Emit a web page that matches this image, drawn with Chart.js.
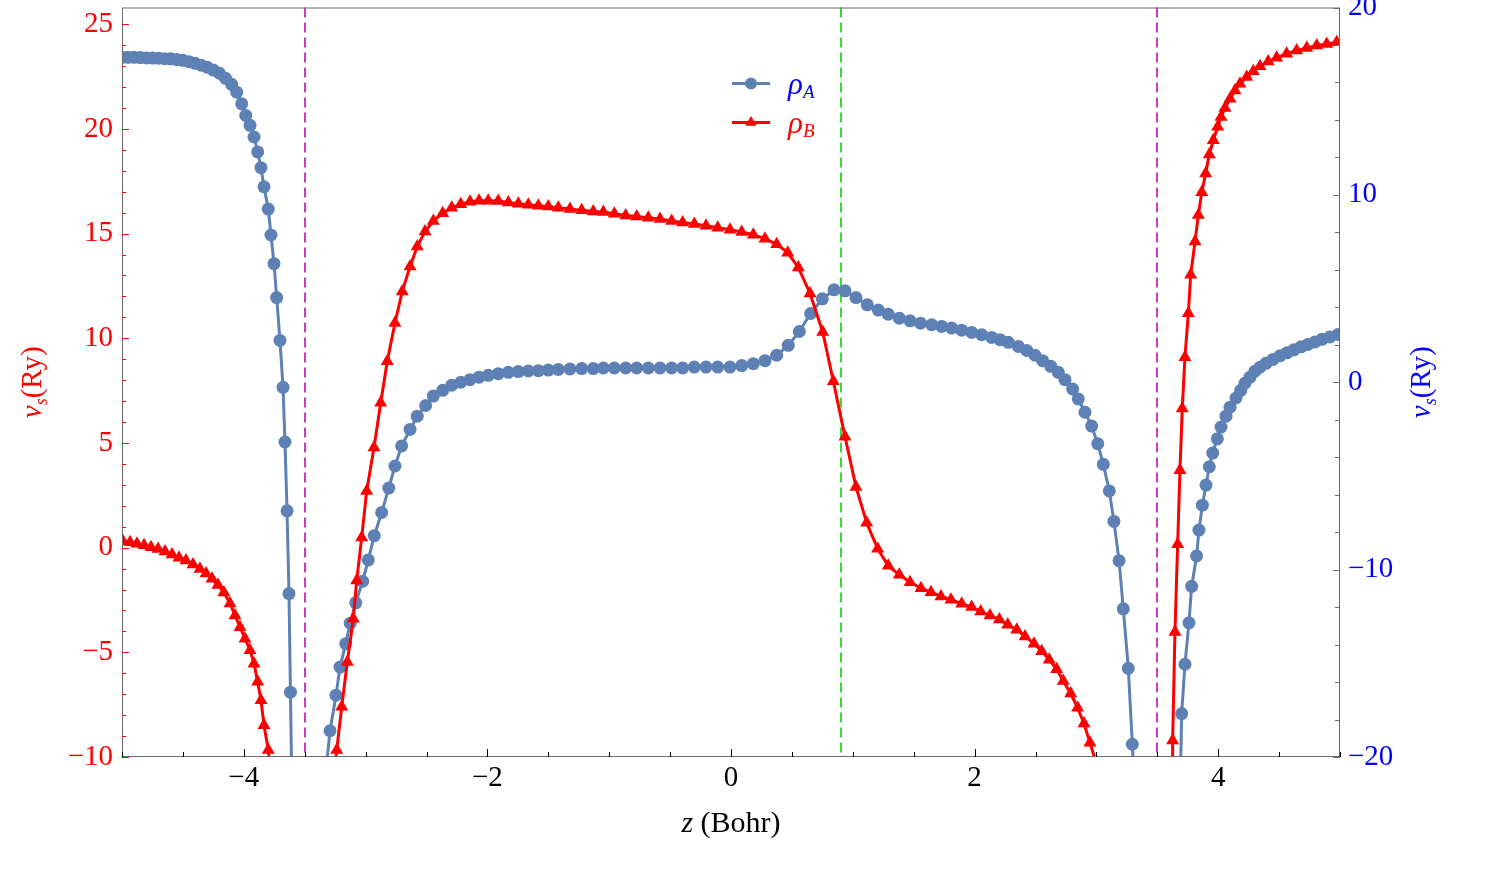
<!DOCTYPE html>
<html lang="en">
<head>
    <meta charset="UTF-8">
    <title>v_s(z) for rho_A and rho_B</title>
    <script src="https://cdn.jsdelivr.net/npm/chart.js"></script>
    <style>
        body { margin: 0; background: white; }
        .chart-box { width: 1500px; height: 878px; position: relative; }
    </style>
</head>
<body>
    <div class="chart-box"><canvas id="chartVs"></canvas></div>

    <script>
        // rho_A (right axis), three branches: z in Bohr, v_s in Ry
        const zA1 = [-5, -4.95, -4.9, -4.85, -4.8, -4.75, -4.7, -4.65, -4.6, -4.55,
            -4.5, -4.45, -4.4, -4.35, -4.3, -4.25, -4.2, -4.15, -4.1, -4.058,
            -4.017, -3.984, -3.949, -3.916, -3.886, -3.859, -3.834, -3.799, -3.777, -3.752,
            -3.730, -3.703, -3.678, -3.662, -3.645, -3.629, -3.617, -3.604];
        const vA1 = [17.34, 17.34, 17.34, 17.33, 17.31, 17.30, 17.29, 17.27, 17.26, 17.22,
            17.18, 17.11, 17.02, 16.92, 16.81, 16.66, 16.49, 16.22, 15.90, 15.48,
            14.86, 14.24, 13.71, 13.09, 12.29, 11.45, 10.43, 9.24, 7.86, 6.33,
            4.52, 2.23, -0.27, -3.19, -6.86, -11.28, -16.54, -22.3];

        const zA2 = [-3.333, -3.292, -3.243, -3.210, -3.163, -3.126, -3.081, -3.024, -2.978, -2.929,
            -2.868, -2.810, -2.759, -2.704, -2.635, -2.576, -2.507, -2.444, -2.367, -2.293,
            -2.219, -2.143, -2.069, -1.993, -1.911, -1.828, -1.746, -1.664, -1.582, -1.500,
            -1.418, -1.322, -1.226, -1.131, -1.048, -0.958, -0.865, -0.774, -0.679, -0.583,
            -0.487, -0.397, -0.301, -0.205, -0.109, -0.008, 0.088, 0.183, 0.279, 0.375,
            0.470, 0.561, 0.654, 0.750, 0.846, 0.936, 1.026, 1.119, 1.209, 1.291,
            1.382, 1.470, 1.557, 1.648, 1.730, 1.812, 1.894, 1.976, 2.058, 2.140,
            2.209, 2.277, 2.359, 2.428, 2.496, 2.559, 2.625, 2.687, 2.742, 2.805,
            2.851, 2.906, 2.961, 3.011, 3.057, 3.106, 3.144, 3.186, 3.221, 3.262,
            3.295, 3.313];
        const vA2 = [-21.2, -18.60, -16.70, -15.20, -13.95, -12.86, -11.77, -10.62, -9.48, -8.19,
            -6.95, -5.65, -4.47, -3.40, -2.52, -1.81, -1.24, -0.74, -0.43, -0.16,
            0.00, 0.14, 0.27, 0.37, 0.46, 0.53, 0.57, 0.60, 0.62, 0.65,
            0.68, 0.71, 0.73, 0.73, 0.76, 0.76, 0.76, 0.76, 0.76, 0.76,
            0.76, 0.76, 0.81, 0.81, 0.81, 0.81, 0.89, 0.99, 1.15, 1.44,
            1.97, 2.71, 3.67, 4.45, 4.93, 4.88, 4.52, 4.13, 3.85, 3.63,
            3.42, 3.28, 3.15, 3.07, 2.98, 2.89, 2.78, 2.66, 2.54, 2.39,
            2.27, 2.13, 1.91, 1.70, 1.44, 1.15, 0.85, 0.53, 0.14, -0.36,
            -0.89, -1.60, -2.34, -3.28, -4.38, -5.80, -7.43, -9.52, -12.09, -15.27,
            -19.32, -21.8];

        const zA3 = [3.686, 3.700, 3.727, 3.760, 3.782, 3.823, 3.842, 3.870, 3.900, 3.927,
            3.955, 3.993, 4.023, 4.064, 4.097, 4.146, 4.185, 4.220, 4.261, 4.302,
            4.343, 4.392, 4.450, 4.507, 4.565, 4.622, 4.680, 4.737, 4.795, 4.852,
            4.918, 4.984];
        const vA3 = [-22.3, -17.68, -15.05, -12.84, -10.89, -9.27, -7.89, -6.56, -5.49, -4.51,
            -3.78, -3.02, -2.39, -1.81, -1.33, -0.84, -0.43, -0.05, 0.27, 0.59,
            0.80, 1.01, 1.22, 1.41, 1.57, 1.73, 1.89, 2.02, 2.15, 2.29,
            2.42, 2.55];

        // rho_B (left axis)
        const zB1 = [-4.992, -4.934, -4.877, -4.819, -4.762, -4.704, -4.647, -4.589, -4.532, -4.475,
            -4.417, -4.360, -4.310, -4.261, -4.212, -4.163, -4.113, -4.072, -4.031, -3.990,
            -3.949, -3.916, -3.886, -3.859, -3.834, -3.799, -3.773];
        const vB1 = [0.31, 0.26, 0.19, 0.12, 0.02, -0.07, -0.19, -0.33, -0.48, -0.62,
            -0.81, -1.02, -1.24, -1.48, -1.79, -2.14, -2.67, -3.24, -3.80, -4.35,
            -4.90, -5.54, -6.41, -7.29, -8.48, -9.67, -11.10];

        const zB2 = [-3.276, -3.237, -3.196, -3.150, -3.101, -3.073, -3.032, -2.991, -2.931, -2.876,
            -2.822, -2.759, -2.699, -2.635, -2.576, -2.512, -2.444, -2.367, -2.293, -2.219,
            -2.143, -2.069, -1.993, -1.911, -1.828, -1.746, -1.664, -1.582, -1.500, -1.418,
            -1.322, -1.226, -1.131, -1.048, -0.958, -0.865, -0.774, -0.679, -0.583, -0.487,
            -0.397, -0.301, -0.205, -0.109, -0.008, 0.088, 0.183, 0.279, 0.375, 0.466,
            0.553, 0.649, 0.753, 0.840, 0.936, 1.026, 1.114, 1.204, 1.291, 1.382,
            1.470, 1.560, 1.642, 1.724, 1.806, 1.894, 1.976, 2.050, 2.126, 2.203,
            2.272, 2.346, 2.414, 2.488, 2.551, 2.613, 2.674, 2.728, 2.789, 2.846,
            2.898, 2.947, 3.030];
        const vB2 = [-11.57, -9.67, -7.60, -5.46, -3.40, -1.57, 0.49, 2.71, 4.78, 6.92,
            8.90, 10.73, 12.24, 13.43, 14.38, 15.10, 15.60, 15.97, 16.24, 16.40,
            16.52, 16.57, 16.57, 16.56, 16.49, 16.43, 16.38, 16.33, 16.29, 16.24,
            16.18, 16.11, 16.06, 16.03, 15.95, 15.87, 15.82, 15.76, 15.70, 15.60,
            15.53, 15.46, 15.38, 15.28, 15.19, 15.08, 14.95, 14.76, 14.49, 14.09,
            13.38, 12.14, 10.30, 7.95, 5.30, 2.90, 1.19, -0.05, -0.86, -1.30,
            -1.65, -1.94, -2.13, -2.33, -2.49, -2.68, -2.84, -3.05, -3.24, -3.43,
            -3.68, -3.92, -4.24, -4.59, -4.95, -5.35, -5.81, -6.37, -6.97, -7.65,
            -8.40, -9.32, -10.86];

        const zB3 = [3.621, 3.626, 3.645, 3.667, 3.686, 3.705, 3.727, 3.755, 3.774, 3.810,
            3.837, 3.865, 3.897, 3.927, 3.960, 3.996, 4.023, 4.056, 4.097, 4.138,
            4.179, 4.234, 4.288, 4.343, 4.411, 4.480, 4.562, 4.644, 4.727, 4.809,
            4.891, 4.973];
        const vB3 = [-11.57, -9.21, -4.03, 0.16, 3.70, 6.65, 9.10, 11.20, 13.03, 14.62,
            15.89, 16.97, 17.87, 18.78, 19.46, 20.10, 20.57, 21.00, 21.44, 21.84,
            22.16, 22.48, 22.75, 22.99, 23.22, 23.40, 23.59, 23.75, 23.87, 23.99,
            24.06, 24.14];

        // tick labels and the dashed guide lines
        const xTicks = [-4, -2, 0, 2, 4];
        const leftTicks = [-10, -5, 0, 5, 10, 15, 20, 25];
        const rightTicks = [-20, -10, 0, 10, 20];
        const guideZ = [-3.5, 0.9, 3.5];

        const SERIF = '"Liberation Serif", "DejaVu Serif", serif';
        const colorA = '#5e81b5';
        const colorB = '#ff0000';
        const textRed = '#ff0000';
        const textBlue = '#0000ff';
        const frameColor = '#6a6a6a';
        const guideColors = ['#c83cc8', '#33dd33', '#c83cc8'];

        // joins branches, with a null point between them so the line breaks
        function branches(zLists, vLists) {
            const out = [];
            zLists.forEach((zs, k) => {
                if (k > 0) out.push({ x: zs[0], y: null });
                zs.forEach((z, i) => out.push({ x: z, y: vLists[k][i] }));
            });
            return out;
        }

        function fmt(v) {
            return v < 0 ? '\u2212' + Math.abs(v) : String(v);
        }

        // text runs with italic / subscript parts
        function runFont(p, size) {
            const s = p.sub ? Math.round(size * 0.62) : size;
            return (p.it ? 'italic ' : '') + s + 'px ' + SERIF;
        }
        function runWidth(ctx, parts, size) {
            let w = 0;
            parts.forEach(p => { ctx.font = runFont(p, size); w += ctx.measureText(p.t).width; });
            return w;
        }
        function drawRun(ctx, parts, x, y, size, color, subShift) {
            ctx.fillStyle = color;
            ctx.textAlign = 'left';
            ctx.textBaseline = 'alphabetic';
            let cx = x;
            parts.forEach(p => {
                ctx.font = runFont(p, size);
                ctx.fillText(p.t, cx, y + (p.sub ? subShift : 0));
                cx += ctx.measureText(p.t).width;
            });
        }

        function marker(ctx, style, x, y, r) {
            ctx.beginPath();
            if (style === 'triangle') {
                ctx.moveTo(x, y - r);
                ctx.lineTo(x + r * 0.87, y + r * 0.5);
                ctx.lineTo(x - r * 0.87, y + r * 0.5);
                ctx.closePath();
            } else {
                ctx.arc(x, y, r, 0, Math.PI * 2);
            }
            ctx.fill();
        }

        const vsTitle = [{ t: 'v', it: true }, { t: 's', it: true, sub: true }, { t: '(Ry)' }];
        const legendText = [
            [{ t: '\u03c1', it: true }, { t: 'A', it: true, sub: true }],
            [{ t: '\u03c1', it: true }, { t: 'B', it: true, sub: true }]
        ];
        const legendColors = [textBlue, textRed];

        const decor = {
            id: 'decor',
            beforeDatasetsDraw(chart) {
                const { ctx, chartArea: a, scales } = chart;
                ctx.save();
                ctx.lineWidth = 2;
                ctx.setLineDash([10, 5]);
                guideZ.forEach((z, i) => {
                    const px = Math.round(scales.x.getPixelForValue(z));
                    ctx.strokeStyle = guideColors[i];
                    ctx.beginPath();
                    ctx.moveTo(px, a.top);
                    ctx.lineTo(px, a.bottom);
                    ctx.stroke();
                });
                ctx.restore();
            },
            afterDraw(chart) {
                const { ctx, chartArea: a, scales } = chart;
                const line = (x1, y1, x2, y2) => {
                    ctx.beginPath(); ctx.moveTo(x1, y1); ctx.lineTo(x2, y2); ctx.stroke();
                };
                ctx.save();

                // frame
                ctx.lineWidth = 1;
                ctx.strokeStyle = frameColor;
                ctx.strokeRect(a.left + 0.5, a.top + 0.5, a.right - a.left - 1, a.bottom - a.top - 1);

                // inward ticks
                ctx.strokeStyle = '#000';
                for (let k = -10; k <= 10; k++) {
                    const px = Math.round(scales.x.getPixelForValue(k / 2)) + 0.5;
                    line(px, a.bottom, px, a.bottom - (k % 4 === 0 ? 8 : 5));
                }
                ctx.strokeStyle = textRed;
                for (let k = -10; k <= 25; k++) {
                    const py = Math.round(scales.yL.getPixelForValue(k)) + 0.5;
                    line(a.left, py, a.left + (k % 5 === 0 ? 7 : 4), py);
                }
                ctx.strokeStyle = frameColor;
                for (let k = -20; k <= 20; k += 2) {
                    const py = Math.round(scales.yR.getPixelForValue(k)) + 0.5;
                    line(a.right, py, a.right - (k % 10 === 0 ? 7 : 5), py);
                }

                // axis titles
                const xParts = [{ t: 'z', it: true }, { t: ' (Bohr)' }];
                const xw = runWidth(ctx, xParts, 30);
                drawRun(ctx, xParts, (a.left + a.right) / 2 - xw / 2, 832, 30, '#000', 0);

                const midY = (a.top + a.bottom) / 2;
                [[41, textRed], [1430, textBlue]].forEach(([bx, col]) => {
                    ctx.save();
                    ctx.translate(bx, midY);
                    ctx.rotate(-Math.PI / 2);
                    const w = runWidth(ctx, vsTitle, 29);
                    drawRun(ctx, vsTitle, -w / 2, 0, 29, col, 6);
                    ctx.restore();
                });

                // legend
                const lx = a.left + 610;
                chart.data.datasets.forEach((ds, i) => {
                    const y = a.top + 76 + i * 39;
                    ctx.strokeStyle = ds.borderColor;
                    ctx.fillStyle = ds.borderColor;
                    ctx.lineWidth = 3;
                    line(lx, y, lx + 38, y);
                    marker(ctx, ds.pointStyle, lx + 19, y, ds.pointStyle === 'triangle' ? 6.5 : 6);
                    drawRun(ctx, legendText[i], lx + 56, y + 10, 31, legendColors[i], 4);
                });

                ctx.restore();
            }
        };

        const tickFont = { family: SERIF, size: 29 };

        new Chart(document.getElementById('chartVs'), {
            type: 'line',
            data: {
                datasets: [{
                    label: 'rho_A',
                    data: branches([zA1, zA2, zA3], [vA1, vA2, vA3]),
                    yAxisID: 'yR',
                    borderColor: colorA,
                    backgroundColor: colorA,
                    borderWidth: 3,
                    pointStyle: 'circle',
                    pointRadius: 6.5,
                    pointBorderWidth: 0,
                    pointBackgroundColor: colorA,
                    spanGaps: false,
                    tension: 0,
                    clip: 0,
                    order: 2
                }, {
                    label: 'rho_B',
                    data: branches([zB1, zB2, zB3], [vB1, vB2, vB3]),
                    yAxisID: 'yL',
                    borderColor: colorB,
                    backgroundColor: colorB,
                    borderWidth: 3,
                    pointStyle: 'triangle',
                    pointRadius: 7.5,
                    pointBorderWidth: 0,
                    pointBackgroundColor: colorB,
                    spanGaps: false,
                    tension: 0,
                    clip: 0,
                    order: 1
                }]
            },
            options: {
                responsive: true,
                maintainAspectRatio: false,
                animation: false,
                events: [],
                layout: { padding: { top: 5, left: 0, right: 0, bottom: 0 } },
                plugins: {
                    legend: { display: false },
                    tooltip: { enabled: false }
                },
                scales: {
                    x: {
                        type: 'linear',
                        min: -5,
                        max: 5,
                        grid: { display: false, drawTicks: false },
                        border: { display: false },
                        afterBuildTicks: s => { s.ticks = xTicks.map(v => ({ value: v })); },
                        afterFit: s => { s.height = 121; s.paddingLeft = 0; s.paddingRight = 0; },
                        ticks: { color: '#000', font: tickFont, padding: 4, maxRotation: 0, autoSkip: false, callback: fmt }
                    },
                    yL: {
                        type: 'linear',
                        position: 'left',
                        min: -10,
                        max: 25.8,
                        grid: { display: false, drawTicks: false },
                        border: { display: false },
                        afterBuildTicks: s => { s.ticks = leftTicks.map(v => ({ value: v })); },
                        afterFit: s => { s.width = 122; s.paddingTop = 0; s.paddingBottom = 0; },
                        ticks: { color: textRed, font: tickFont, padding: 9, autoSkip: false, callback: fmt }
                    },
                    yR: {
                        type: 'linear',
                        position: 'right',
                        min: -20,
                        max: 20,
                        grid: { display: false, drawTicks: false },
                        border: { display: false },
                        afterBuildTicks: s => { s.ticks = rightTicks.map(v => ({ value: v })); },
                        afterFit: s => { s.width = 160; s.paddingTop = 0; s.paddingBottom = 0; },
                        ticks: { color: textBlue, font: tickFont, padding: 8, autoSkip: false, callback: fmt }
                    }
                }
            },
            plugins: [decor]
        });
    </script>
</body>
</html>
